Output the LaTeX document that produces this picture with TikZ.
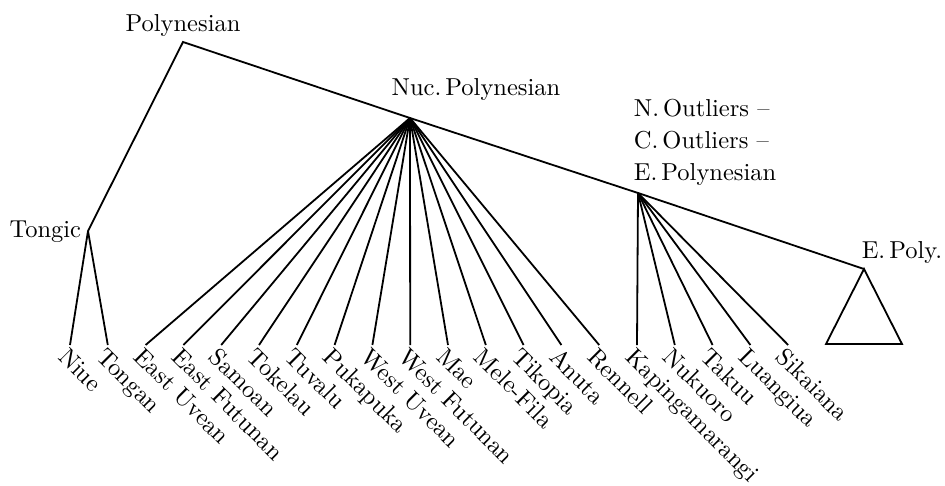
\documentclass[tikz,border=0pt]{standalone}
\usepackage{fontspec}
\setmainfont{lmroman10-regular.otf}
\begin{document}
\begin{tikzpicture}[x=1pt,y=-1pt,line width=1.8pt,
  lbl/.style={font=\fontsize{24.5}{32}\selectfont,inner sep=0pt},
  leaflbl/.style={lbl,rotate=-45,anchor=north west}]
\useasboundingbox (0,0) rectangle (945,485);

% internal nodes of the tree
\coordinate (poly)   at (183,42);
\coordinate (tongic) at (88,231);
\coordinate (nuc)    at (410,118);
\coordinate (outl)   at (638,193);
\coordinate (epoly)  at (864,269);

% group labels
\node[lbl,anchor=base]      (polyL)   at (183,31)  {Polynesian};
\node[lbl,anchor=base east] (tongicL) at (82,237)  {Tongic};
\node[lbl,anchor=base]      (nucL)    at (476,95)  {Nuc.\,Polynesian};
\node[lbl,anchor=north west,align=left] (outlL) at (633,98)
  {N.\,Outliers --\\C.\,Outliers --\\E.\,Polynesian};
\node[lbl,anchor=base east] (epolyL)  at (943,258) {E.\,Poly.};

% leaves, evenly spaced along the bottom
\foreach \n/\t in {0/Niue,1/Tongan,2/East Uvean,3/East Futunan,4/Samoan,
  5/Tokelau,6/Tuvalu,7/Pukapuka,8/West Uvean,9/West Futunan,10/Mae,
  11/Mele-Fila,12/Tikopia,13/Anuta,14/Rennell,15/Kapingamarangi,
  16/Nukuoro,17/Takuu,18/Luangiua,19/Sikaiana}{
  \coordinate (l\n) at ({70+37.8*\n},345);
  \node[leaflbl] (t\n) at ({70+37.8*\n-1},345) {\t};
}

% spine of the tree
\draw (tongic) -- (poly) -- (nuc) -- (outl) -- (epoly);

% Tongic branches
\foreach \n in {0,1} \draw (tongic) -- (l\n);
% Nuclear Polynesian branches
\foreach \n in {2,...,14} \draw (nuc) -- (l\n);
% Outlier branches
\foreach \n in {15,...,19} \draw (outl) -- (l\n);

% collapsed Eastern Polynesian subgroup
\coordinate (triL) at (826,344);
\coordinate (triR) at (902,344);
\draw (epoly) -- (triL) -- (triR) -- cycle;
\end{tikzpicture}
\end{document}
